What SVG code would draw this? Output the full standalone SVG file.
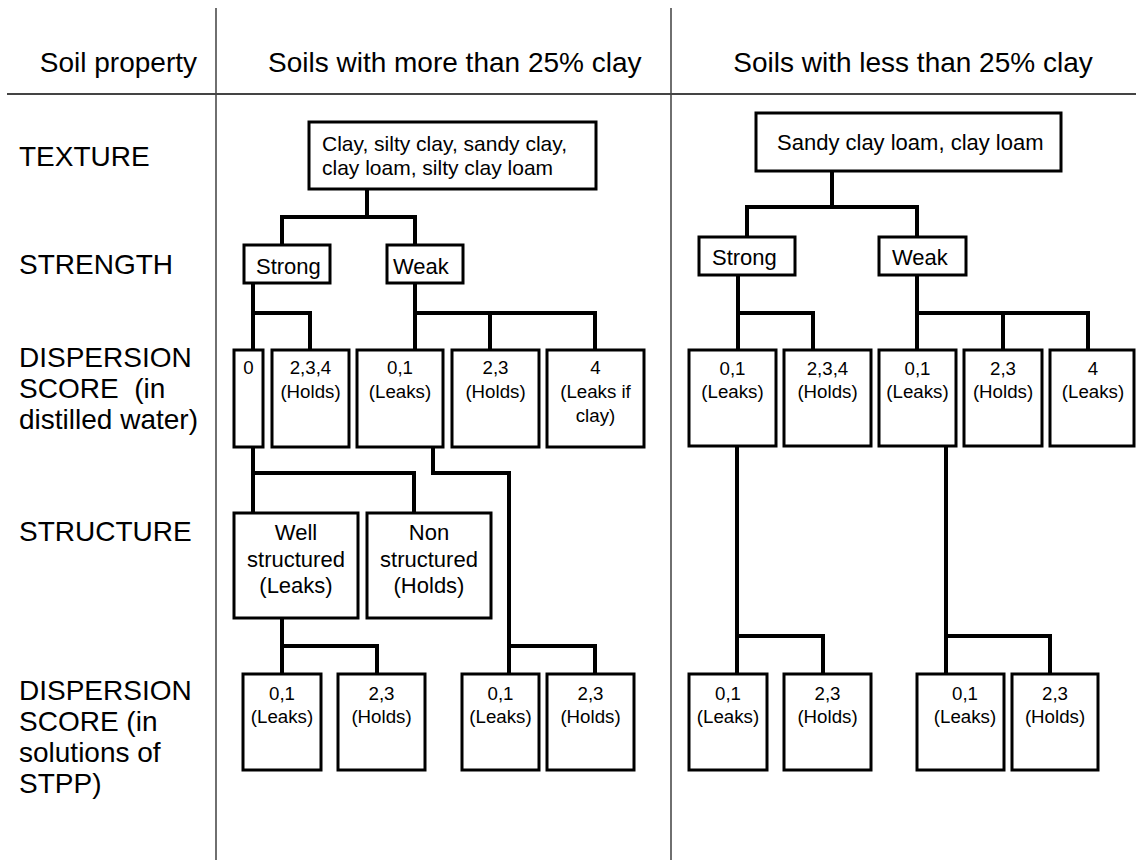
<svg xmlns="http://www.w3.org/2000/svg" width="1136" height="863" viewBox="0 0 1136 863">
<style>
text{font-family:"Liberation Sans",Arial,sans-serif;fill:#000}
.hd{font-size:28px}
.lb{font-size:28px}
.big{font-size:22px}
.tx{font-size:21px}
.sm{font-size:18.7px;text-anchor:middle}
.c{text-anchor:middle}
.box{fill:#fff;stroke:#000;stroke-width:3}
.con{fill:none;stroke:#000;stroke-width:4;stroke-linejoin:miter}
.grid{stroke:#222;stroke-width:1.3;fill:none}
</style>
<rect width="1136" height="863" fill="#fff"/>
<g id="grid">
<line class="grid" x1="216" y1="8" x2="216" y2="860"/>
<line class="grid" x1="671" y1="8" x2="671" y2="860"/>
<line x1="7" y1="94" x2="1136" y2="94" stroke="#444" stroke-width="2"/>
</g>
<g id="headers">
<text class="hd" x="197" y="72" text-anchor="end">Soil property</text>
<text class="hd" x="268" y="72">Soils with more than 25% clay</text>
<text class="hd" x="913" y="72" text-anchor="middle">Soils with less than 25% clay</text>
</g>
<g id="row-labels">
<text class="lb" x="19" y="166">TEXTURE</text>
<text class="lb" x="19" y="274">STRENGTH</text>
<text class="lb" x="19" y="367">DISPERSION</text>
<text class="lb" x="19" y="398" xml:space="preserve">SCORE  (in</text>
<text class="lb" x="19" y="429">distilled water)</text>
<text class="lb" x="19" y="541">STRUCTURE</text>
<text class="lb" x="19" y="700">DISPERSION</text>
<text class="lb" x="19" y="731">SCORE (in</text>
<text class="lb" x="19" y="762">solutions of</text>
<text class="lb" x="19" y="793">STPP)</text>
</g>
<g id="connectors">
<path class="con" d="M367,189V217M282,245V217H415V245"/>
<path class="con" d="M253,283V350M253,313H310V350"/>
<path class="con" d="M415,283V350M415,313H595V350M490,313V350"/>
<path class="con" d="M253,447V513M253,473H414V513"/>
<path class="con" d="M433,447V473H509V674M509,646H595V674"/>
<path class="con" d="M282,618V674M282,646H377V674"/>
<path class="con" d="M832,171V207M747,237V207H917V237"/>
<path class="con" d="M738,275V350M738,313H813V350"/>
<path class="con" d="M917,275V350M917,313H1088V350M1003,313V350"/>
<path class="con" d="M737,446V674M737,636H823V674"/>
<path class="con" d="M946,446V674M946,636H1050V674"/>
</g>
<g id="L-texture"><rect class="box" x="309" y="122" width="287" height="67"/>
<text class="tx" x="322" y="151">Clay, silty clay, sandy clay,</text>
<text class="tx" x="322" y="175">clay loam, silty clay loam</text></g>
<g id="L-strong"><rect class="box" x="244" y="245" width="86" height="38"/><text class="big" x="256" y="274">Strong</text></g>
<g id="L-weak"><rect class="box" x="387" y="245" width="76" height="38"/><text class="big" x="393" y="274">Weak</text></g>
<g id="L-d0"><rect class="box" x="234" y="350" width="29" height="97"/><text class="sm" x="248.5" y="374">0</text></g>
<g id="L-d234"><rect class="box" x="272" y="350" width="77" height="97"/><text class="sm" x="310.5" y="374">2,3,4</text><text class="sm" x="310.5" y="398">(Holds)</text></g>
<g id="L-d01"><rect class="box" x="357" y="350" width="86" height="97"/><text class="sm" x="400" y="374">0,1</text><text class="sm" x="400" y="398">(Leaks)</text></g>
<g id="L-d23"><rect class="box" x="452" y="350" width="87" height="97"/><text class="sm" x="495.5" y="374">2,3</text><text class="sm" x="495.5" y="398">(Holds)</text></g>
<g id="L-d4"><rect class="box" x="547" y="350" width="97" height="97"/><text class="sm" x="595.5" y="374">4</text><text class="sm" x="595.5" y="398">(Leaks if</text><text class="sm" x="595.5" y="422">clay)</text></g>
<g id="L-well"><rect class="box" x="234" y="513" width="124" height="105"/><text class="big c" x="296" y="540">Well</text><text class="big c" x="296" y="567">structured</text><text class="big c" x="296" y="593">(Leaks)</text></g>
<g id="L-non"><rect class="box" x="367" y="513" width="124" height="105"/><text class="big c" x="429" y="540">Non</text><text class="big c" x="429" y="567">structured</text><text class="big c" x="429" y="593">(Holds)</text></g>
<g id="L-s1"><rect class="box" x="243" y="674" width="78" height="96"/><text class="sm" x="282" y="700">0,1</text><text class="sm" x="282" y="723">(Leaks)</text></g>
<g id="L-s2"><rect class="box" x="338" y="674" width="87" height="96"/><text class="sm" x="381.5" y="700">2,3</text><text class="sm" x="381.5" y="723">(Holds)</text></g>
<g id="L-s3"><rect class="box" x="462" y="674" width="77" height="96"/><text class="sm" x="500.5" y="700">0,1</text><text class="sm" x="500.5" y="723">(Leaks)</text></g>
<g id="L-s4"><rect class="box" x="547" y="674" width="87" height="96"/><text class="sm" x="590.5" y="700">2,3</text><text class="sm" x="590.5" y="723">(Holds)</text></g>
<g id="R-texture"><rect class="box" x="756" y="113" width="305" height="58"/><text class="big" x="777" y="150">Sandy clay loam, clay loam</text></g>
<g id="R-strong"><rect class="box" x="699" y="237" width="96" height="38"/><text class="big" x="712" y="265">Strong</text></g>
<g id="R-weak"><rect class="box" x="879" y="237" width="87" height="38"/><text class="big" x="892" y="265">Weak</text></g>
<g id="R-d01a"><rect class="box" x="689" y="350" width="87" height="96"/><text class="sm" x="732.5" y="375">0,1</text><text class="sm" x="732.5" y="398">(Leaks)</text></g>
<g id="R-d234"><rect class="box" x="784" y="350" width="87" height="96"/><text class="sm" x="827.5" y="375">2,3,4</text><text class="sm" x="827.5" y="398">(Holds)</text></g>
<g id="R-d01b"><rect class="box" x="879" y="350" width="77" height="96"/><text class="sm" x="917.5" y="375">0,1</text><text class="sm" x="917.5" y="398">(Leaks)</text></g>
<g id="R-d23"><rect class="box" x="964" y="350" width="78" height="96"/><text class="sm" x="1003" y="375">2,3</text><text class="sm" x="1003" y="398">(Holds)</text></g>
<g id="R-d4"><rect class="box" x="1050" y="350" width="84" height="96"/><text class="sm" x="1093" y="375">4</text><text class="sm" x="1093" y="398">(Leaks)</text></g>
<g id="R-s1"><rect class="box" x="689" y="674" width="78" height="96"/><text class="sm" x="728" y="700">0,1</text><text class="sm" x="728" y="723">(Leaks)</text></g>
<g id="R-s2"><rect class="box" x="784" y="674" width="87" height="96"/><text class="sm" x="827.5" y="700">2,3</text><text class="sm" x="827.5" y="723">(Holds)</text></g>
<g id="R-s3"><rect class="box" x="917" y="674" width="87" height="96"/><text class="sm" x="965" y="700">0,1</text><text class="sm" x="965" y="723">(Leaks)</text></g>
<g id="R-s4"><rect class="box" x="1012" y="674" width="86" height="96"/><text class="sm" x="1055" y="700">2,3</text><text class="sm" x="1055" y="723">(Holds)</text></g>
</svg>
